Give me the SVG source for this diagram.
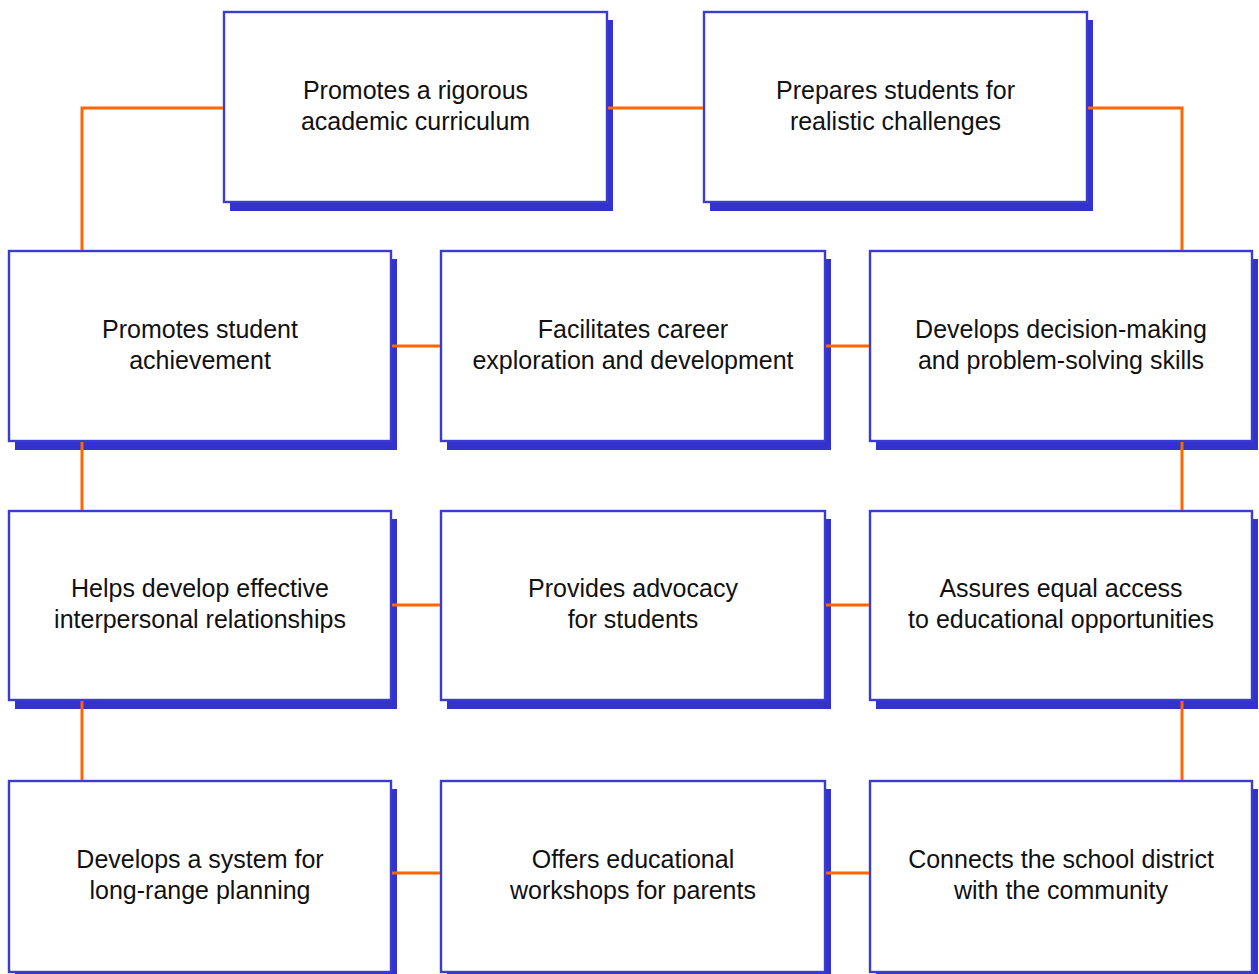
<svg xmlns="http://www.w3.org/2000/svg" width="1259" height="974" viewBox="0 0 1259 974">
<style>
.sh{fill:#3333CC;stroke:none}
.bx{fill:#FFFFFF;stroke:#3B3BD2;stroke-width:2.4}
.t{font-family:"Liberation Sans",Arial,sans-serif;font-size:25px;fill:#111111;text-anchor:middle}
.c{fill:none;stroke:#FF6600;stroke-width:3}
</style>
<rect width="1259" height="974" fill="#FFFFFF"/>
<g id="n1"><rect class="sh" x="230" y="20" width="383" height="191"/><rect class="bx" x="224" y="12" width="383" height="190"/><text class="t" x="415.5"><tspan x="415.5" y="99">Promotes a rigorous</tspan><tspan x="415.5" y="130">academic curriculum</tspan></text></g>
<g id="n2"><rect class="sh" x="710" y="20" width="383" height="191"/><rect class="bx" x="704" y="12" width="383" height="190"/><text class="t"><tspan x="895.5" y="99">Prepares students for</tspan><tspan x="895.5" y="130">realistic challenges</tspan></text></g>
<g id="n3"><rect class="sh" x="15" y="259" width="382" height="191"/><rect class="bx" x="9" y="251" width="382" height="190"/><text class="t"><tspan x="200" y="338">Promotes student</tspan><tspan x="200" y="369">achievement</tspan></text></g>
<g id="n4"><rect class="sh" x="447" y="259" width="384" height="191"/><rect class="bx" x="441" y="251" width="384" height="190"/><text class="t"><tspan x="633" y="338">Facilitates career</tspan><tspan x="633" y="369">exploration and development</tspan></text></g>
<g id="n5"><rect class="sh" x="876" y="259" width="382" height="191"/><rect class="bx" x="870" y="251" width="382" height="190"/><text class="t"><tspan x="1061" y="338">Develops decision-making</tspan><tspan x="1061" y="369">and problem-solving skills</tspan></text></g>
<g id="n6"><rect class="sh" x="15" y="519" width="382" height="190"/><rect class="bx" x="9" y="511" width="382" height="189"/><text class="t"><tspan x="200" y="597">Helps develop effective</tspan><tspan x="200" y="628">interpersonal relationships</tspan></text></g>
<g id="n7"><rect class="sh" x="447" y="519" width="384" height="190"/><rect class="bx" x="441" y="511" width="384" height="189"/><text class="t"><tspan x="633" y="597">Provides advocacy</tspan><tspan x="633" y="628">for students</tspan></text></g>
<g id="n8"><rect class="sh" x="876" y="519" width="382" height="190"/><rect class="bx" x="870" y="511" width="382" height="189"/><text class="t"><tspan x="1061" y="597">Assures equal access</tspan><tspan x="1061" y="628">to educational opportunities</tspan></text></g>
<g id="n9"><rect class="sh" x="15" y="789" width="382" height="191"/><rect class="bx" x="9" y="781" width="382" height="191"/><text class="t"><tspan x="200" y="868">Develops a system for</tspan><tspan x="200" y="899">long-range planning</tspan></text></g>
<g id="n10"><rect class="sh" x="447" y="789" width="384" height="191"/><rect class="bx" x="441" y="781" width="384" height="191"/><text class="t"><tspan x="633" y="868">Offers educational</tspan><tspan x="633" y="899">workshops for parents</tspan></text></g>
<g id="n11"><rect class="sh" x="876" y="789" width="382" height="191"/><rect class="bx" x="870" y="781" width="382" height="191"/><text class="t"><tspan x="1061" y="868">Connects the school district</tspan><tspan x="1061" y="899">with the community</tspan></text></g>
<g id="connectors">
<path class="c" d="M223,108 H82 V250"/>
<path class="c" d="M608,108 H703"/>
<path class="c" d="M1088,108 H1182 V250"/>
<path class="c" d="M392,346 H440"/>
<path class="c" d="M826,346 H869"/>
<path class="c" d="M82,442 V510"/>
<path class="c" d="M1182,442 V510"/>
<path class="c" d="M392,605 H440"/>
<path class="c" d="M826,605 H869"/>
<path class="c" d="M82,701 V780"/>
<path class="c" d="M1182,701 V780"/>
<path class="c" d="M392,873 H440"/>
<path class="c" d="M826,873 H869"/>
</g>
</svg>
